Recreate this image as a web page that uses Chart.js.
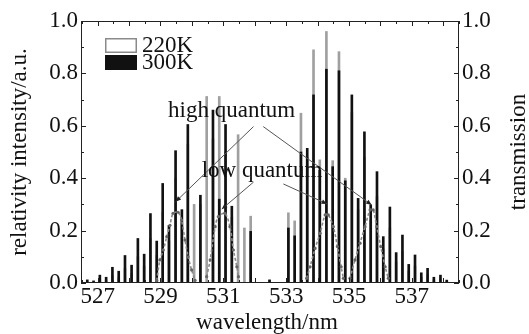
<!DOCTYPE html>
<html><head><meta charset="utf-8">
<script src="https://cdn.jsdelivr.net/npm/chart.js@4.4.1/dist/chart.umd.min.js"></script>
<style>html,body{margin:0;padding:0;background:#fff;}#wrap{width:529px;height:334px;}</style>
</head><body><div id="wrap"><canvas id="c" width="529" height="334"></canvas></div>
<script>
// ---- data ----
const wavelengths = [526.67,526.87,527.07,527.27,527.47,527.67,527.87,528.08,528.28,528.48,528.68,528.88,529.07,529.27,529.48,529.68,529.87,530.07,530.27,530.47,530.67,530.87,531.07,531.27,531.47,531.67,531.87,532.47,533.07,533.27,533.47,533.67,533.87,534.07,534.28,534.48,534.68,534.88,535.09,535.29,535.49,535.69,535.89,536.09,536.30,536.50,536.70,536.90,537.10,537.30,537.50,537.70,537.91,538.11];
const intensity300K = [0.012,0.008,0.030,0.022,0.060,0.045,0.105,0.068,0.170,0.110,0.265,0.160,0.380,0.220,0.505,0.280,0.605,0.000,0.335,0.000,0.660,0.320,0.605,0.293,0.000,0.000,0.197,0.012,0.210,0.180,0.500,0.514,0.718,0.430,0.816,0.444,0.810,0.390,0.718,0.323,0.577,0.298,0.425,0.177,0.290,0.116,0.183,0.071,0.107,0.039,0.056,0.022,0.030,0.011];
const intensity220K = [0.004,0.003,0.012,0.009,0.028,0.020,0.055,0.036,0.100,0.064,0.170,0.105,0.270,0.160,0.400,0.230,0.530,0.300,0.300,0.712,0.550,0.712,0.500,0.250,0.566,0.210,0.255,0.010,0.268,0.237,0.648,0.480,0.890,0.470,0.960,0.467,0.883,0.400,0.650,0.280,0.480,0.240,0.330,0.130,0.210,0.080,0.120,0.045,0.065,0.022,0.032,0.012,0.016,0.006];

const filterHighLeftX  = [528.88,528.98,529.09,529.20,529.30,529.40,529.56,529.67,529.78,529.88,529.99,530.10];
const filterHighLeftT  = [0.010,0.088,0.126,0.177,0.220,0.266,0.270,0.240,0.164,0.100,0.050,0.010];
const filterLowLeftX   = [530.47,530.58,530.74,530.84,531.05,531.21,531.32,531.43,531.48];
const filterLowLeftT   = [0.024,0.088,0.215,0.253,0.266,0.215,0.126,0.062,0.024];
const filterLowRightX  = [533.65,533.76,533.92,534.08,534.24,534.34,534.50,534.63,534.75,534.82];
const filterLowRightT  = [0.018,0.062,0.132,0.190,0.260,0.260,0.215,0.139,0.062,0.018];
const filterHighRightX = [535.03,535.19,535.35,535.51,535.67,535.77,535.88,536.01,536.15,536.25];
const filterHighRightT = [0.018,0.088,0.152,0.215,0.279,0.279,0.215,0.139,0.062,0.018];

const xTickLabels = [527,529,531,533,535,537];
const yTickLabels = [0.0,0.2,0.4,0.6,0.8,1.0];
const seriesNames = ['220K','300K'];
const xTitle = 'wavelength/nm';
const yTitle = 'relativity intensity/a.u.';
const y2Title = 'transmission';
const notes = [
  {text:'high quantum', x:529.24, y:0.634, arrows:[[531.96,0.597,529.48,0.310],[532.27,0.597,535.72,0.298]]},
  {text:'low quantum',  x:530.31, y:0.406, arrows:[[531.96,0.385,530.95,0.282],[532.91,0.378,534.30,0.302]]}
];

const FONT = '"Liberation Serif","Times New Roman",serif';
const pts = (xs, ys) => xs.map((v,i)=>({x:v, y:ys[i]}));
const filterStyle = {type:'line', yAxisID:'y2', borderColor:'#8a8a8a', borderWidth:1.6, borderDash:[3,2],
  pointRadius:1.6, pointBackgroundColor:'#666', pointBorderWidth:0, tension:0.3, fill:false, order:0};

const deco = {
  id:'deco',
  afterDraw(chart){
    const {ctx, chartArea:a, scales} = chart;
    const x = scales.x, y = scales.y;
    ctx.save();
    ctx.strokeStyle = '#222'; ctx.lineWidth = 1;
    ctx.strokeRect(a.left+0.5, a.top+0.5, a.right-a.left-1, a.bottom-a.top-1);
    ctx.beginPath();
    for (let v = 526.5; v <= 538.5001; v += 0.5) {
      const px = Math.round(x.getPixelForValue(v)) + 0.5;
      const L = (Math.abs(v - Math.round(v)) < 1e-6) ? 5 : 3;
      ctx.moveTo(px, a.bottom); ctx.lineTo(px, a.bottom - L);
      ctx.moveTo(px, a.top); ctx.lineTo(px, a.top + L);
    }
    for (let k = 0; k <= 10; k++) {
      const v = k/10;
      const py = Math.round(y.getPixelForValue(v)) + 0.5;
      const L = (k % 2 === 0) ? 5 : 3;
      ctx.moveTo(a.left, py); ctx.lineTo(a.left + L, py);
      ctx.moveTo(a.right, py); ctx.lineTo(a.right - L, py);
    }
    ctx.stroke();

    // legend
    const lx = a.left + 24, ly = a.top + 17;
    ctx.fillStyle = '#fff'; ctx.strokeStyle = '#8a8a8a'; ctx.lineWidth = 1.5;
    ctx.fillRect(lx, ly, 32, 15); ctx.strokeRect(lx+0.75, ly+0.75, 30.5, 13.5);
    ctx.fillStyle = '#111'; ctx.fillRect(lx, ly+17, 32, 15);
    ctx.font = '23px ' + FONT; ctx.fillStyle = '#111';
    ctx.textAlign = 'left'; ctx.textBaseline = 'middle';
    ctx.fillText(seriesNames[0], lx + 37, ly + 8);
    ctx.fillText(seriesNames[1], lx + 37, ly + 25);

    // annotations
    notes.forEach(n => {
      ctx.textBaseline = 'alphabetic'; ctx.textAlign = 'left'; ctx.fillStyle = '#111';
      ctx.fillText(n.text, x.getPixelForValue(n.x), y.getPixelForValue(n.y));
      n.arrows.forEach(([x0,y0,x1,y1]) => {
        const X0 = x.getPixelForValue(x0), Y0 = y.getPixelForValue(y0);
        const X1 = x.getPixelForValue(x1), Y1 = y.getPixelForValue(y1);
        ctx.strokeStyle = '#555'; ctx.lineWidth = 1;
        ctx.beginPath(); ctx.moveTo(X0,Y0); ctx.lineTo(X1,Y1); ctx.stroke();
        const ang = Math.atan2(Y1-Y0, X1-X0), s = 6;
        ctx.fillStyle = '#222'; ctx.beginPath();
        ctx.moveTo(X1,Y1);
        ctx.lineTo(X1 - s*Math.cos(ang-0.4), Y1 - s*Math.sin(ang-0.4));
        ctx.lineTo(X1 - s*Math.cos(ang+0.4), Y1 - s*Math.sin(ang+0.4));
        ctx.closePath(); ctx.fill();
      });
    });

    // axis titles
    ctx.fillStyle = '#111'; ctx.font = '23px ' + FONT;
    const cy = (a.top + a.bottom)/2;
    ctx.textAlign = 'center'; ctx.textBaseline = 'middle';
    ctx.save(); ctx.translate(20, cy); ctx.rotate(-Math.PI/2); ctx.fillText(yTitle, 0, 0); ctx.restore();
    ctx.save(); ctx.translate(519, cy); ctx.rotate(-Math.PI/2); ctx.fillText(y2Title, 0, 0); ctx.restore();
    ctx.textBaseline = 'alphabetic';
    ctx.fillText(xTitle, (a.left + a.right)/2 - 3, 329);
    ctx.restore();
  }
};

Chart.defaults.font.family = FONT;
Chart.defaults.font.size = 23;
Chart.defaults.color = '#111';

new Chart(document.getElementById('c'), {
  type: 'bar',
  data: {
    datasets: [
      {label:seriesNames[1], data:pts(wavelengths, intensity300K), backgroundColor:'#111', borderWidth:0,
       barThickness:2, grouped:false, order:1, yAxisID:'y'},
      {label:seriesNames[0], data:pts(wavelengths, intensity220K), backgroundColor:'#a0a0a0', borderWidth:0,
       barThickness:2, grouped:false, order:2, yAxisID:'y'},
      Object.assign({label:'T1', data:pts(filterHighLeftX, filterHighLeftT)}, filterStyle),
      Object.assign({label:'T2', data:pts(filterLowLeftX, filterLowLeftT)}, filterStyle),
      Object.assign({label:'T3', data:pts(filterLowRightX, filterLowRightT)}, filterStyle),
      Object.assign({label:'T4', data:pts(filterHighRightX, filterHighRightT)}, filterStyle)
    ]
  },
  options: {
    responsive:false, animation:false, maintainAspectRatio:false,
    layout:{padding:{top:21, left:0, right:0, bottom:0}},
    plugins:{legend:{display:false}, tooltip:{enabled:false}},
    scales:{
      x:{type:'linear', min:526.47, max:538.5, offset:false,
         grid:{display:false, drawTicks:false}, border:{display:false},
         afterBuildTicks:s=>{ s.ticks = xTickLabels.map(v=>({value:v})); },
         ticks:{padding:0, maxRotation:0, autoSkip:false, callback:v=>String(v)},
         afterFit:s=>{ s.height = 51; }},
      y:{type:'linear', position:'left', min:0, max:1,
         grid:{display:false, drawTicks:false}, border:{display:false},
         afterBuildTicks:s=>{ s.ticks = yTickLabels.map(v=>({value:v})); },
         ticks:{padding:3, callback:v=>Number(v).toFixed(1)},
         afterFit:s=>{ s.width = 81; }},
      y2:{type:'linear', position:'right', min:0, max:1,
         grid:{display:false, drawTicks:false}, border:{display:false},
         afterBuildTicks:s=>{ s.ticks = yTickLabels.map(v=>({value:v})); },
         ticks:{padding:3, callback:v=>Number(v).toFixed(1)},
         afterFit:s=>{ s.width = 70; }}
    }
  },
  plugins:[deco]
});
</script></body></html>
